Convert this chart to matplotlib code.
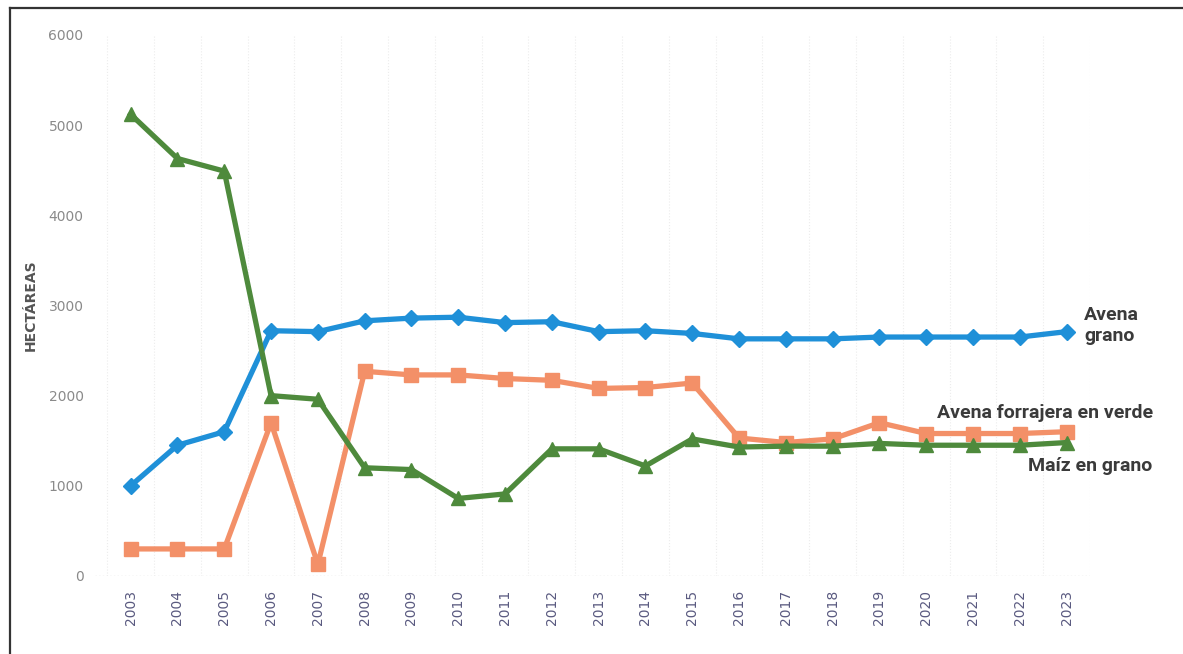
import numpy as np
import matplotlib.pyplot as plt
from matplotlib.lines import Line2D

# Datos (hectáreas)
years = [str(y) for y in range(2003, 2024)]
avena_grano = [1000, 1450, 1600, 2720, 2710, 2830, 2860, 2870, 2810, 2820,
               2710, 2720, 2690, 2630, 2630, 2630, 2650, 2650, 2650, 2650, 2710]
avena_forrajera = [300, 300, 300, 1700, 130, 2270, 2230, 2230, 2190, 2170,
                   2080, 2090, 2140, 1530, 1480, 1520, 1700, 1580, 1580, 1580, 1600]
maiz_grano = [5120, 4630, 4490, 2000, 1960, 1200, 1180, 860, 910, 1410,
              1410, 1220, 1520, 1430, 1440, 1440, 1470, 1450, 1450, 1450, 1480]
yticks = [0, 1000, 2000, 3000, 4000, 5000, 6000]

c_blue = '#1f90d8'
c_orange = '#f39068'
c_green = '#4e8a3c'

fig = plt.figure(figsize=(11.83, 6.54), dpi=100)
ax = fig.add_axes([0.080, 0.1193, 0.841, 0.8272])

x = np.arange(len(years))
ax.plot(x, avena_grano, color=c_blue, lw=3.8, marker='D', ms=8,
        solid_joinstyle='round', zorder=3)
ax.plot(x, avena_forrajera, color=c_orange, lw=3.8, marker='s', ms=10,
        solid_joinstyle='round', zorder=4)
ax.plot(x, maiz_grano, color=c_green, lw=3.8, marker='^', ms=10,
        solid_joinstyle='round', zorder=5)

ax.set_xlim(-0.77, 20.49)
ax.set_ylim(0, 6000)
ax.set_xticks(x)
ax.set_xticklabels(years, rotation=90, fontsize=10, color='#5a5a80')
ax.set_yticks(yticks)
ax.set_yticklabels([str(v) for v in yticks], fontsize=10, color='#8a8a8a')
ax.tick_params(length=0, pad=10)
ax.tick_params(axis='y', pad=8)

for s in ax.spines.values():
    s.set_visible(False)
for xv in np.arange(-0.5, 21, 1):
    ax.axvline(xv, color='#ececec', lw=0.8, ls=':', zorder=0)
ax.axhline(0, color='#d8d8d8', lw=1.0, ls=':', zorder=1)

ax.set_ylabel('HECTÁREAS', fontsize=10, color='#555555', fontweight='bold')
ax.yaxis.set_label_coords(-0.057, 0.5)

lbl = dict(fontsize=14, fontweight='bold', color='#3a3a3a', family='Roboto')
ax.text(20.38, 2780, 'Avena\ngrano', ha='left', va='center', linespacing=1.2, **lbl)
ax.text(19.55, 1810, 'Avena forrajera en verde', ha='center', va='center', **lbl)
ax.text(20.51, 1220, 'Maíz en grano', ha='center', va='center', **lbl)

# marco del escaneo
fig.add_artist(Line2D([10 / 1183, 10 / 1183], [0, 1 - 8 / 654],
                      transform=fig.transFigure, color='#333333', lw=1.6))
fig.add_artist(Line2D([10 / 1183, 1], [1 - 8 / 654, 1 - 8 / 654],
                      transform=fig.transFigure, color='#333333', lw=1.6))

fig.savefig('out.png', dpi=100)
